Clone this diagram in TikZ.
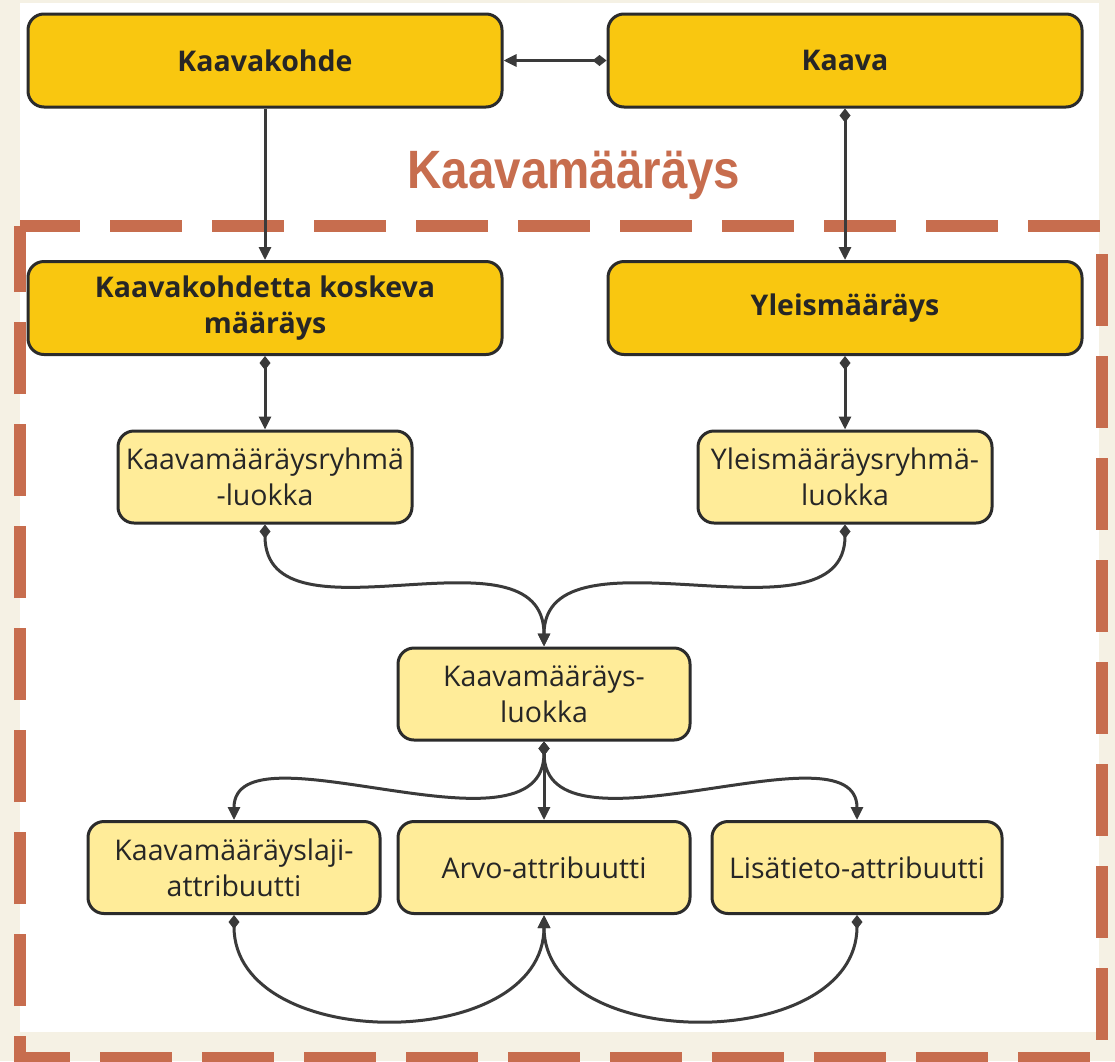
\documentclass[tikz,border=0pt]{standalone}
\usepackage{fontspec}
\setmainfont{Open Sans}
\newfontfamily\titlefont{Liberation Sans}
\usepackage{graphicx}
\usepackage{tikz}
\usetikzlibrary{arrows.meta,positioning}
\definecolor{planGold}{HTML}{F9C710}
\definecolor{planLight}{HTML}{FFEC99}
\definecolor{planInk}{HTML}{2B2B2B}
\definecolor{planText}{HTML}{262626}
\definecolor{planLine}{HTML}{3A3A3A}
\definecolor{planRust}{HTML}{C76D4E}
\definecolor{planCream}{HTML}{F5F1E4}
\tikzset{
  topBox/.style={
    rectangle,
    rounded corners=16pt,
    draw=planInk,
    fill=planGold,
    line width=3pt,
    minimum width=474pt,
    minimum height=93pt,
    inner sep=4pt,
    align=center,
    text=planText,
    font=\fontsize{28.5}{36}\selectfont\bfseries
  },
  classBox/.style={
    rectangle,
    rounded corners=16pt,
    draw=planInk,
    fill=planLight,
    line width=3pt,
    minimum width=292pt,
    minimum height=92pt,
    inner sep=4pt,
    align=center,
    text=planText,
    font=\fontsize{28.5}{36}\selectfont
  },
  link/.style={
    -{Triangle[length=13pt,width=12pt]},
    line width=3pt,
    draw=planLine
  },
  compLink/.style={
    {Diamond[length=14pt,width=11pt]}-{Triangle[length=13pt,width=12pt]},
    line width=3pt,
    draw=planLine
  },
  frameDash/.style={
    draw=planRust,
    line width=12pt,
    dash pattern=on 72pt off 30pt,
    dash phase=12pt
  }
}
\begin{document}
\begin{tikzpicture}[x=1pt,y=-1pt]
  \useasboundingbox (0,0) rectangle (1115,1061);
  \fill[planCream] (0,0) rectangle (1115,1061);
  \fill[white] (20,3) rectangle (1099,1032);
  % dashed frame of the Kaavamääräys package
  \draw[frameDash] (20,226) -- (1102,226) -- (1102,1058) -- (20,1058) -- cycle;
  \node[text=planRust,font=\titlefont\fontsize{54}{60}\selectfont\bfseries] (title) at (574,175) {\scalebox{0.88}[1]{Kaavamääräys}};
  % top level
  \node[topBox] (kohde) at (265,60.5) {Kaavakohde};
  \node[topBox] (kaava) at (845,60.5) {Kaava};
  \node[topBox] (kohdeMaar) at (265,308) {Kaavakohdetta koskeva\\määräys};
  \node[topBox] (yleis) at (845,308) {Yleismääräys};
  % classes
  \node[classBox,minimum width=294pt] (ryhma) at (265,477) {Kaavamääräysryhmä\\-luokka};
  \node[classBox,minimum width=294pt] (yRyhma) at (845,477) {Yleismääräysryhmä-\\luokka};
  \node[classBox] (luokka) at (544,694) {Kaavamääräys-\\luokka};
  \node[classBox] (laji) at (234,867.5) {Kaavamääräyslaji-\\attribuutti};
  \node[classBox] (arvo) at (544,867.5) {Arvo-attribuutti};
  \node[classBox,minimum width=290pt] (lisa) at (857,867.5) {Lisätieto-attribuutti};
  % connectors
  \draw[compLink] (kaava.west) -- (kohde.east);
  \draw[link] (kohde.south) -- (kohdeMaar.north);
  \draw[compLink] (kaava.south) -- (yleis.north);
  \draw[compLink] (kohdeMaar.south) -- (ryhma.north);
  \draw[compLink] (yleis.south) -- (yRyhma.north);
  \draw[compLink] (ryhma.south) .. controls +(0,127) and +(0,-128) .. (luokka.north);
  \draw[compLink] (yRyhma.south) .. controls +(0,127) and +(0,-128) .. (luokka.north);
  \draw[compLink] (luokka.south) .. controls +(0,125) and +(0,-100) .. (laji.north);
  \draw[compLink] (luokka.south) -- (arvo.north);
  \draw[compLink] (luokka.south) .. controls +(0,125) and +(0,-100) .. (lisa.north);
  \draw[compLink] (laji.south) .. controls +(0,139) and +(0,139) .. (arvo.south);
  \draw[compLink] (lisa.south) .. controls +(0,139) and +(0,139) .. (arvo.south);
\end{tikzpicture}
\end{document}
